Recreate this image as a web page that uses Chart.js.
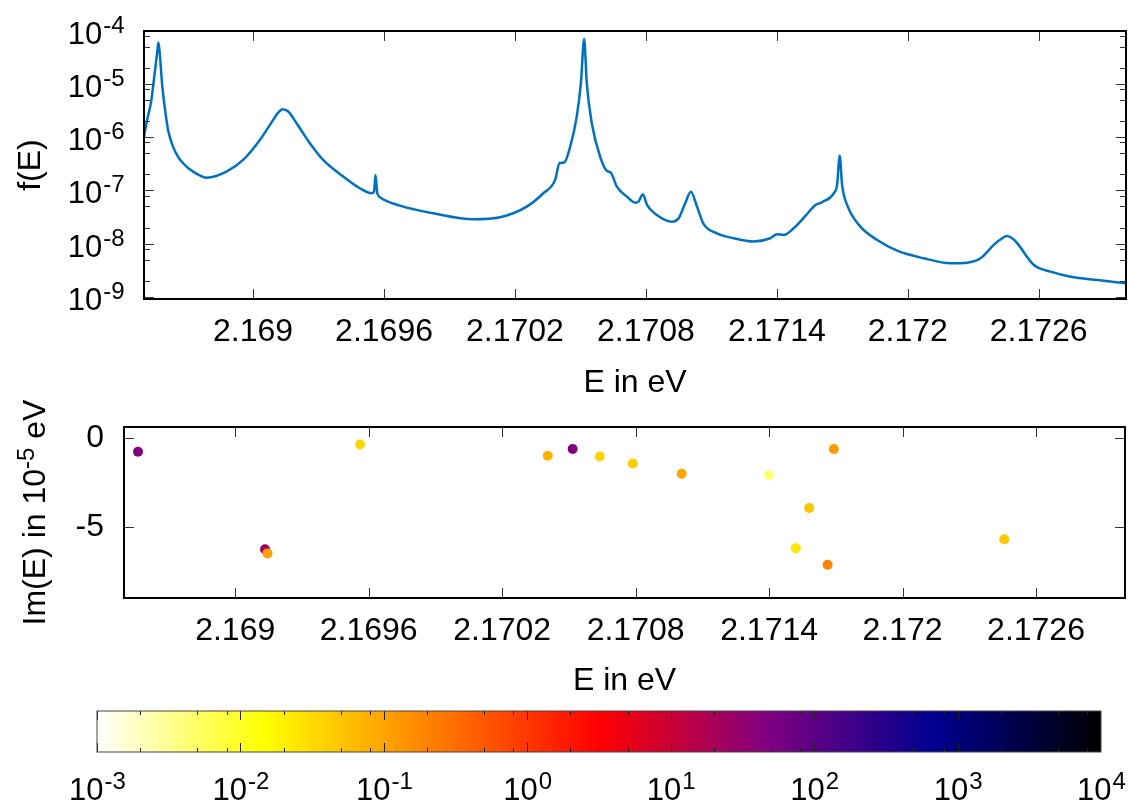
<!DOCTYPE html>
<html>
<head>
<meta charset="utf-8">
<title>f(E) and poles</title>
<script src="https://cdn.jsdelivr.net/npm/chart.js@4.4.1/dist/chart.umd.min.js"></script>
<style>
  body { margin: 0; background: #fff; }
  #wrap { position: relative; width: 1132px; height: 807px; }
  canvas { position: absolute; left: 0; }
</style>
</head>
<body>
<div id="wrap">
  <canvas id="spec" width="1132" height="405" style="top:0"></canvas>
  <canvas id="poles" width="1132" height="300" style="top:400px"></canvas>
  <canvas id="cbar" width="1132" height="107" style="top:700px"></canvas>
</div>
<script>
// spectrum f(E)
const eLine = [
  2.168499, 2.168511, 2.168534, 2.168549, 2.168560, 2.168566, 2.168572, 2.168584, 2.168603, 2.168610,
  2.168633, 2.168656, 2.168679, 2.168702, 2.168725, 2.168755, 2.168786, 2.168878, 2.168954, 2.169031,
  2.169077, 2.169115, 2.169135, 2.169161, 2.169199, 2.169260, 2.169321, 2.169413, 2.169489, 2.169543,
  2.169554, 2.169561, 2.169569, 2.169581, 2.169673, 2.169826, 2.170009, 2.170132, 2.170254, 2.170330,
  2.170384, 2.170404, 2.170425, 2.170453, 2.170483, 2.170502, 2.170517, 2.170529, 2.170552, 2.170590,
  2.170621, 2.170639, 2.170667, 2.170713, 2.170751, 2.170766, 2.170786, 2.170805, 2.170850, 2.170919,
  2.170950, 2.170980, 2.171006, 2.171034, 2.171064, 2.171126, 2.171202, 2.171294, 2.171370, 2.171401,
  2.171431, 2.171477, 2.171531, 2.171577, 2.171607, 2.171661, 2.171676, 2.171688, 2.171699, 2.171722,
  2.171783, 2.171860, 2.171951, 2.172073, 2.172196, 2.172272, 2.172333, 2.172394, 2.172424, 2.172453,
  2.172480, 2.172502, 2.172578, 2.172655, 2.172746, 2.172869, 2.173000
];
const fLine = [
  9.6e-7, 1.84e-6, 5.06e-6, 1.61e-5, 3.84e-5, 6.07e-5, 3.84e-5, 9.0e-6, 2.13e-6, 1.38e-6,
  6.68e-7, 4.3e-7, 3.25e-7, 2.65e-7, 2.26e-7, 1.92e-7, 1.74e-7, 2.26e-7, 3.75e-7, 8.93e-7,
  1.71e-6, 2.92e-6, 3.38e-6, 3.05e-6, 1.84e-6, 7.74e-7, 3.75e-7, 1.82e-7, 1.10e-7, 8.85e-8,
  9.48e-8, 1.96e-7, 8.85e-8, 7.45e-8, 5.18e-8, 3.72e-8, 2.87e-8, 3.13e-8, 4.95e-8, 8.85e-8,
  1.58e-7, 3.25e-7, 3.34e-7, 6.68e-7, 2.45e-6, 1.04e-5, 7.04e-5, 1.04e-5, 1.84e-6, 4.34e-7,
  2.33e-7, 2.16e-7, 1.18e-7, 7.64e-8, 5.89e-8, 6.15e-8, 8.47e-8, 5.33e-8, 3.46e-8, 2.58e-8,
  2.99e-8, 5.74e-8, 9.48e-8, 4.95e-8, 2.34e-8, 1.56e-8, 1.26e-8, 1.09e-8, 1.26e-8, 1.50e-8,
  1.45e-8, 1.94e-8, 3.31e-8, 5.33e-8, 6.0e-8, 8.85e-8, 1.27e-7, 4.47e-7, 1.27e-7, 5.33e-8,
  2.08e-8, 1.17e-8, 7.35e-9, 5.28e-9, 4.26e-9, 4.37e-9, 5.28e-9, 9.42e-9, 1.19e-8, 1.39e-8,
  1.25e-8, 1.01e-8, 3.95e-9, 2.96e-9, 2.38e-9, 2.06e-9, 1.79e-9
];

// poles: Re(E) in eV, Im(E) in 1e-5 eV, weight (colour scale)
const poleE = [2.168563, 2.169134, 2.169145, 2.169561, 2.170405, 2.170517, 2.170639, 2.170787,
               2.171007, 2.171400, 2.171691, 2.171580, 2.171520, 2.171663, 2.172457];
const poleIm = [-0.77, -6.26, -6.49, -0.36, -1.0, -0.62, -1.04, -1.43,
                -2.01, -2.09, -0.62, -3.93, -6.2, -7.13, -5.70];
const poleW = [46, 24, 0.108, 0.034, 0.072, 46, 0.039, 0.043,
               0.098, 0.0045, 0.118, 0.051, 0.025, 0.21, 0.047];

const eTicks = [2.169, 2.1696, 2.1702, 2.1708, 2.1714, 2.172, 2.1726];
const fTicks = [1e-9, 1e-8, 1e-7, 1e-6, 1e-5, 1e-4];
const imTicks = [-5, 0];
const cbTicks = [1e-3, 1e-2, 1e-1, 1, 1e1, 1e2, 1e3, 1e4];

const FONT = '"Liberation Sans", Arial, Helvetica, sans-serif';
Chart.defaults.font.family = FONT;
Chart.defaults.color = '#000';

// white - yellow - red - purple - blue - black
const palette = [[0, [255,255,255]], [1/6, [255,255,0]], [1/2, [255,0,0]],
                 [2/3, [128,0,128]], [5/6, [0,0,144]], [1, [0,0,0]]];
function palColor(w){
  let t = (Math.log10(w) + 3) / 7;
  t = Math.min(1, Math.max(0, t));
  for (let i = 1; i < palette.length; i++) {
    if (t <= palette[i][0]) {
      const [t0, c0] = palette[i-1], [t1, c1] = palette[i];
      const k = (t - t0) / (t1 - t0);
      const c = c0.map((v, j) => Math.round(v + (c1[j] - v) * k));
      return `rgb(${c[0]},${c[1]},${c[2]})`;
    }
  }
  return 'rgb(0,0,0)';
}

function minorLog(decades){
  let out = [];
  decades.forEach(d => [2, 5, 8].forEach(m => out.push(d * m)));
  return out;
}

// "10" with raised exponent
function drawPow(ctx, exp, x, y, align){
  ctx.font = '31px ' + FONT;
  const wb = ctx.measureText('10').width;
  ctx.font = '24px ' + FONT;
  const we = ctx.measureText(exp).width;
  let x0 = align === 'right' ? x - wb - we : x - (wb + we) / 2;
  ctx.fillStyle = '#000';
  ctx.textAlign = 'left';
  ctx.textBaseline = 'alphabetic';
  ctx.font = '31px ' + FONT;
  ctx.fillText('10', x0, y);
  ctx.font = '24px ' + FONT;
  ctx.fillText(exp, x0 + wb + 1, y - 11);
}

// box + inward ticks, mirrored like gnuplot
const frame = {
  id: 'frame',
  afterDatasetsDraw(chart, args, o){
    const {ctx, chartArea: a, scales} = chart;
    ctx.save();
    ctx.strokeStyle = o.tickColor || '#000';
    ctx.lineWidth = 1;
    const xt = (vals, len) => vals.forEach(v => {
      const p = Math.round(scales.x.getPixelForValue(v)) + 0.5;
      if (p < a.left || p > a.right) return;
      ctx.beginPath();
      ctx.moveTo(p, a.bottom); ctx.lineTo(p, a.bottom - len);
      ctx.moveTo(p, a.top); ctx.lineTo(p, a.top + len);
      ctx.stroke();
    });
    const yt = (vals, len) => vals.forEach(v => {
      const p = Math.round(scales.y.getPixelForValue(v)) + 0.5;
      if (p < a.top || p > a.bottom) return;
      ctx.beginPath();
      ctx.moveTo(a.left, p); ctx.lineTo(a.left + len, p);
      ctx.moveTo(a.right, p); ctx.lineTo(a.right - len, p);
      ctx.stroke();
    });
    if (o.xMajor) xt(o.xMajor, o.majorLen);
    if (o.xMinor) xt(o.xMinor, o.minorLen);
    if (o.yMajor) yt(o.yMajor, o.majorLen);
    if (o.yMinor) yt(o.yMinor, o.minorLen);
    ctx.strokeStyle = o.borderColor || '#000';
    ctx.lineWidth = o.borderWidth || 2;
    ctx.strokeRect(a.left, a.top, a.right - a.left, a.bottom - a.top);
    ctx.restore();
  }
};

// fixed axis boxes so the plot areas sit where the reference has them
const fixH = h => s => { s.height = h; s.paddingLeft = 0; s.paddingRight = 0; };
const fixW = w => s => { s.width = w; s.paddingTop = 0; s.paddingBottom = 0; };

const xTickOpts = {
  font: {size: 32}, padding: 14, maxRotation: 0, autoSkip: false,
  callback: v => String(v)
};

// top: spectrum
new Chart(document.getElementById('spec'), {
  type: 'line',
  data: {
    datasets: [{
      data: eLine.map((e, i) => ({x: e, y: fLine[i]})),
      borderColor: '#0072bd',
      borderWidth: 2.5,
      pointRadius: 0,
      cubicInterpolationMode: 'monotone',
      fill: false
    }]
  },
  options: {
    responsive: false, animation: false, events: [],
    layout: {padding: {top: 31, right: 6, left: 0, bottom: 0}},
    plugins: {
      legend: {display: false}, tooltip: {enabled: false},
      frame: {xMajor: eTicks, yMajor: fTicks, yMinor: minorLog(fTicks), majorLen: 10, minorLen: 6, tickColor: '#333'}
    },
    scales: {
      x: {
        type: 'linear', min: 2.1685, max: 2.173,
        afterBuildTicks: s => { s.ticks = eTicks.map(v => ({value: v})); },
        afterFit: fixH(106),
        ticks: xTickOpts,
        grid: {display: false, drawTicks: false},
        border: {display: false},
        title: {display: true, text: 'E in eV', font: {size: 32}, padding: {top: 0, bottom: 3}}
      },
      y: {
        type: 'logarithmic', min: 9.05e-10, max: 1e-4,
        afterFit: fixW(144),
        ticks: {display: false},
        grid: {display: false, drawTicks: false},
        border: {display: false},
        title: {display: true, text: 'f(E)', font: {size: 32}, padding: {top: 12, bottom: 0}}
      }
    }
  },
  plugins: [frame, {
    id: 'fLabels',
    afterDraw(chart){
      const {ctx, chartArea: a, scales} = chart;
      fTicks.forEach(v => drawPow(ctx, String(Math.round(Math.log10(v))), a.left - 20.5, scales.y.getPixelForValue(v) + 13, 'right'));
    }
  }]
});

// middle: poles in the complex plane
new Chart(document.getElementById('poles'), {
  type: 'scatter',
  data: {
    datasets: [{
      data: poleE.map((e, i) => ({x: e, y: poleIm[i]})),
      pointBackgroundColor: poleW.map(palColor),
      pointBorderWidth: 0,
      pointRadius: 5
    }]
  },
  options: {
    responsive: false, animation: false, events: [],
    layout: {padding: {top: 27, right: 7, left: 0, bottom: 0}},
    plugins: {
      legend: {display: false}, tooltip: {enabled: false},
      frame: {xMajor: eTicks, yMajor: imTicks, majorLen: 10, minorLen: 6, tickColor: '#333'}
    },
    scales: {
      x: {
        type: 'linear', min: 2.1685, max: 2.173,
        afterBuildTicks: s => { s.ticks = eTicks.map(v => ({value: v})); },
        afterFit: fixH(102),
        ticks: xTickOpts,
        grid: {display: false, drawTicks: false},
        border: {display: false},
        title: {display: true, text: 'E in eV', font: {size: 32}, padding: {top: 0, bottom: 0}}
      },
      y: {
        type: 'linear', min: -9, max: 0.62,
        afterBuildTicks: s => { s.ticks = imTicks.map(v => ({value: v})); },
        afterFit: fixW(124),
        ticks: {font: {size: 32}, padding: 20, callback: v => String(v)},
        grid: {display: false, drawTicks: false},
        border: {display: false}
      }
    }
  },
  plugins: [frame, {
    id: 'imTitle',
    afterDraw(chart){
      const {ctx, chartArea: a} = chart;
      const parts = [['Im(E) in 10', 32, 0], ['-5', 24, -11], [' eV', 32, 0]];
      let w = 0;
      parts.forEach(p => { ctx.font = p[1] + 'px ' + FONT; p.push(ctx.measureText(p[0]).width); w += p[3]; });
      ctx.save();
      ctx.translate(33.5 + 11, (a.top + a.bottom) / 2);
      ctx.rotate(-Math.PI / 2);
      ctx.fillStyle = '#000';
      ctx.textAlign = 'left';
      ctx.textBaseline = 'alphabetic';
      let x = -w / 2;
      parts.forEach(p => { ctx.font = p[1] + 'px ' + FONT; ctx.fillText(p[0], x, p[2]); x += p[3]; });
      ctx.restore();
    }
  }]
});

// bottom: colour bar for the pole weights
new Chart(document.getElementById('cbar'), {
  type: 'scatter',
  data: {datasets: [{data: []}]},
  options: {
    responsive: false, animation: false, events: [],
    layout: {padding: {top: 11, right: 31, left: 97, bottom: 0}},
    plugins: {
      legend: {display: false}, tooltip: {enabled: false},
      frame: {xMajor: cbTicks, xMinor: minorLog(cbTicks.slice(0, 7)), majorLen: 9, minorLen: 4, tickColor: '#222', borderColor: '#444', borderWidth: 1}
    },
    scales: {
      x: {
        type: 'logarithmic', min: 1e-3, max: 1e4,
        afterFit: fixH(55),
        ticks: {display: false},
        grid: {display: false, drawTicks: false},
        border: {display: false}
      },
      y: {display: false, min: 0, max: 1}
    }
  },
  plugins: [{
    id: 'cbarFill',
    beforeDatasetsDraw(chart){
      const {ctx, chartArea: a} = chart;
      const g = ctx.createLinearGradient(a.left, 0, a.right, 0);
      palette.forEach(([t, c]) => g.addColorStop(t, `rgb(${c[0]},${c[1]},${c[2]})`));
      ctx.fillStyle = g;
      ctx.fillRect(a.left, a.top, a.right - a.left, a.bottom - a.top);
    },
    afterDraw(chart){
      const {ctx, scales} = chart;
      cbTicks.forEach(v => drawPow(ctx, String(Math.round(Math.log10(v))), scales.x.getPixelForValue(v), 100, 'center'));
    }
  }, frame]
});
</script>
</body>
</html>
